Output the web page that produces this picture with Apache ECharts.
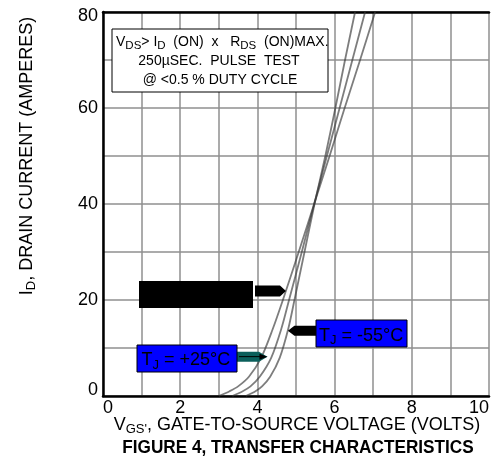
<!DOCTYPE html>
<html>
<head>
<meta charset="utf-8">
<script src="https://cdn.jsdelivr.net/npm/echarts@6/dist/echarts.min.js"></script>
<style>
  html, body { margin: 0; padding: 0; background: #ffffff; }
  #chart { width: 499px; height: 467px; }
</style>
</head>
<body>
<div id="chart"></div>
<script>
// Drain current levels (A) and the gate voltage (V) each curve reaches at that current
const drainCurrentA = [0, 1, 2, 4, 8, 14, 20, 30, 40, 50, 60, 70, 80];
const vgsTjPlus125 = [3.00, 3.28, 3.50, 3.78, 4.10, 4.40, 4.66, 5.07, 5.47, 5.87, 6.26, 6.66, 7.05];
const vgsTjPlus25  = [3.35, 3.62, 3.82, 4.06, 4.36, 4.62, 4.82, 5.15, 5.47, 5.80, 6.13, 6.46, 6.79];
const vgsTjMinus55 = [3.70, 3.95, 4.12, 4.33, 4.58, 4.80, 4.96, 5.22, 5.48, 5.76, 6.02, 6.27, 6.53];

const xTickLabels = ['0', '2', '4', '6', '8', '10'];
const yTickLabels = ['0', '20', '40', '60', '80'];

// Points the temperature callouts point at: [VGS, ID]
const calloutPlus125 = [4.74, 21.9];
const calloutMinus55 = [4.79, 13.6];
const calloutPlus25  = [4.26, 8.2];

const FONT = '"Liberation Sans", Arial, Helvetica, sans-serif';
const GRID_COLOR = '#8f8f8f';

function toPairs(vgs) {
  return drainCurrentA.map((a, i) => [vgs[i], a]);
}

function curveSeries(name, vgs) {
  return {
    name: name,
    type: 'line',
    data: toPairs(vgs),
    smooth: 0.3,
    symbol: 'none',
    silent: true,
    animation: false,
    lineStyle: { color: 'rgba(55,55,55,0.65)', width: 1.8 },
    z: 3
  };
}

const chart = echarts.init(document.getElementById('chart'), null, { renderer: 'canvas' });

chart.setOption({
  animation: false,
  backgroundColor: '#ffffff',
  grid: { left: 103, top: 12, width: 386, height: 384, containLabel: false },
  xAxis: [{
    type: 'value', min: 0, max: 10, interval: 1, position: 'bottom',
    axisLine: { show: true, onZero: false, lineStyle: { color: '#000', width: 2.5 } },
    axisTick: { show: false },
    splitLine: { show: true, lineStyle: { color: GRID_COLOR, width: 1.5 } },
    axisLabel: {
      color: '#000', fontFamily: FONT, fontSize: 18, margin: 3,
      alignMinLabel: 'left', alignMaxLabel: 'right',
      formatter: v => (v % 2 === 0 ? xTickLabels[v / 2] : '')
    }
  }, {
    type: 'value', min: 0, max: 10, position: 'top',
    axisLine: { show: true, onZero: false, lineStyle: { color: '#000', width: 2.5 } },
    axisTick: { show: false }, axisLabel: { show: false }, splitLine: { show: false }
  }],
  yAxis: {
    type: 'value', min: 0, max: 80, interval: 10,
    axisLine: { show: true, onZero: false, lineStyle: { color: '#000', width: 2.5 } },
    axisTick: { show: false },
    splitLine: { show: true, lineStyle: { color: GRID_COLOR, width: 1.5 } },
    axisLabel: {
      color: '#000', fontFamily: FONT, fontSize: 18, margin: 5,
      formatter: v => {
        if (v % 20 !== 0) return '';
        const t = yTickLabels[v / 20];
        if (v === 0) return '{lo|' + t + '}';
        if (v === 80) return '{hi|' + t + '}';
        return t;
      },
      rich: {
        lo: { fontFamily: FONT, fontSize: 18, color: '#000', padding: [0, 0, 12, 0] },
        hi: { fontFamily: FONT, fontSize: 18, color: '#000', padding: [9, 0, 0, 0] }
      }
    }
  },
  series: [
    curveSeries('TJ = +125°C', vgsTjPlus125),
    curveSeries('TJ = +25°C', vgsTjPlus25),
    curveSeries('TJ = -55°C', vgsTjMinus55)
  ]
});

const px = p => chart.convertToPixel({ xAxisIndex: 0, yAxisIndex: 0 }, p);

// rich-text styles: normal text and a lowered subscript
function richStyles(size, subSize, lineH) {
  return {
    n: { fontFamily: FONT, fontSize: size, color: '#000', lineHeight: lineH, verticalAlign: 'middle' },
    s: { fontFamily: FONT, fontSize: subSize, color: '#000', lineHeight: subSize, verticalAlign: 'bottom' }
  };
}

function richText(x, y, text, size, subSize, lineH, align, extra) {
  return Object.assign({
    type: 'text', x: x, y: y, z: 20, silent: true,
    style: {
      text: text, align: align || 'left', verticalAlign: 'middle',
      rich: richStyles(size, subSize, lineH)
    }
  }, extra || {});
}

const tip125 = px(calloutPlus125);
const tip55 = px(calloutMinus55);
const tip25 = px(calloutPlus25);

const graphics = [
  // test-condition box
  { type: 'rect', z: 10, silent: true, shape: { x: 112, y: 29, width: 216, height: 63 },
    style: { fill: '#fff', stroke: '#000', lineWidth: 1 } },
  richText(116, 42, '{n|V}{s|DS}{n|> I}{s|D}{n|  (ON)  x   R}{s|DS}{n|  (ON)MAX.}', 14, 11.5, 20),
  richText(219, 61, '{n|250µSEC.  PULSE  TEST}', 14, 11, 20, 'center'),
  richText(220, 80, '{n|@ <0.5 % DUTY CYCLE}', 14, 11, 20, 'center'),

  // +125 °C callout (blacked out)
  { type: 'rect', z: 10, silent: true, shape: { x: 139, y: 281, width: 114, height: 27 },
    style: { fill: '#000' } },
  { type: 'polygon', z: 10, silent: true,
    shape: { points: [[255, tip125[1] - 5.5], [tip125[0] - 6, tip125[1] - 5.5], tip125,
                      [tip125[0] - 6, tip125[1] + 5.5], [255, tip125[1] + 5.5]] },
    style: { fill: '#000' } },

  // -55 °C callout
  { type: 'polygon', z: 10, silent: true,
    shape: { points: [[316, tip55[1] - 5], [tip55[0] + 6.5, tip55[1] - 5], tip55,
                      [tip55[0] + 6.5, tip55[1] + 5], [316, tip55[1] + 5]] },
    style: { fill: '#000' } },
  { type: 'rect', z: 10, silent: true, shape: { x: 316, y: 320, width: 91, height: 27 },
    style: { fill: '#0000ff', stroke: '#000', lineWidth: 1 } },
  richText(319, 336, '{n|T}{s|J}{n| = -55°C}', 18, 13, 22),

  // +25 °C callout
  { type: 'polygon', z: 10, silent: true,
    shape: { points: [[237, tip25[1] - 5], [tip25[0] - 8.5, tip25[1] - 5], tip25,
                      [tip25[0] - 8.5, tip25[1] + 5], [237, tip25[1] + 5]] },
    style: { fill: '#0b5f5b' } },
  { type: 'line', z: 11, silent: true,
    shape: { x1: 239, y1: tip25[1], x2: tip25[0] - 4, y2: tip25[1] },
    style: { stroke: '#000', lineWidth: 1 } },
  { type: 'polygon', z: 11, silent: true,
    shape: { points: [[tip25[0] - 8, tip25[1] - 3], tip25, [tip25[0] - 8, tip25[1] + 3]] },
    style: { fill: '#000' } },
  { type: 'rect', z: 10, silent: true, shape: { x: 137, y: 345, width: 100, height: 27 },
    style: { fill: '#0000ff', stroke: '#000', lineWidth: 1 } },
  richText(141.5, 360.5, '{n|T}{s|J}{n| = +25°C}', 18, 13, 22),

  // axis titles
  richText(297, 425, '{n|V}{s|GS\'}{n|, GATE-TO-SOURCE VOLTAGE (VOLTS)}', 18, 13, 22, 'center'),
  richText(27, 156, '{n|I}{s|D}{n|, DRAIN CURRENT (AMPERES)}', 18, 13, 22, 'center',
           { rotation: Math.PI / 2 }),
  { type: 'text', z: 20, silent: true, x: 298, y: 448.5, scaleX: 0.955,
    style: { text: 'FIGURE 4, TRANSFER CHARACTERISTICS', align: 'center', verticalAlign: 'middle',
             fontFamily: FONT, fontSize: 18, fontWeight: 'bold', fill: '#000' } }
];

chart.setOption({ graphic: graphics });
</script>
</body>
</html>
